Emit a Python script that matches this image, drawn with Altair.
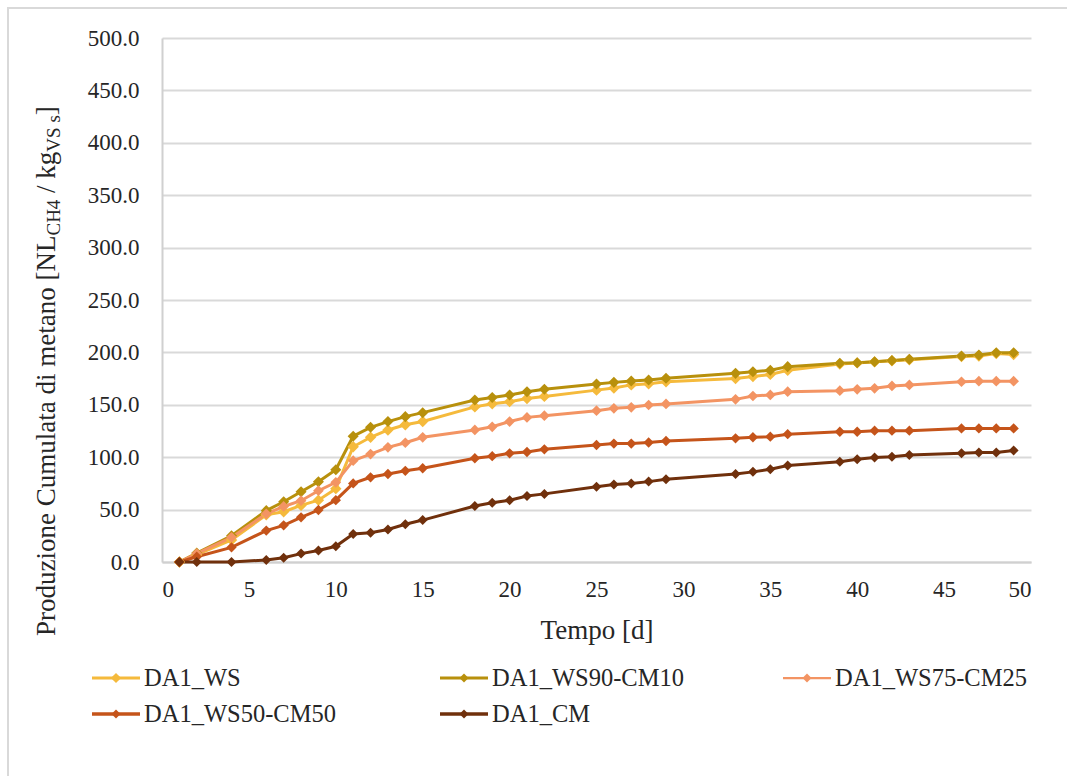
import altair as alt
import pandas as pd

# Sampling days [d]
days = [1, 2, 4, 6, 7, 8, 9, 10, 11, 12, 13, 14, 15, 18, 19, 20, 21, 22, 25, 26,
        27, 28, 29, 33, 34, 35, 36, 39, 40, 41, 42, 43, 46, 47, 48, 49]

# Cumulative methane production [NL CH4 / kg VS s]
ws = [0, 7, 21, 45, 48, 54, 59, 70, 110, 119, 126, 131, 134, 148, 151, 153, 156, 158, 164, 166,
      169, 170, 172, 175, 177, 179, 183, 189, 190, 191, 192, 193, 196, 196.5, 199, 198]
ws90_cm10 = [0, 8.5, 25, 49, 57.5, 67, 76.5, 88, 120, 128.5, 134, 138.7, 142.5, 154.6, 157, 159.4, 162.5, 164.8, 169.8, 171.4,
             172.7, 173.7, 175.3, 180, 181.6, 183, 186.4, 189.6, 190.2, 191, 192.2, 193.4, 196.6, 197.5, 199.7, 199.7]
ws75_cm25 = [0, 8, 23.5, 46, 53, 58.5, 68, 76, 96.7, 103, 109.4, 113.8, 119, 126, 129, 134, 138, 139.6, 144.4, 146.6,
             147.6, 149.8, 150.8, 155.2, 158.4, 159.4, 162.5, 163.5, 164.8, 165.7, 168, 169, 172, 172.5, 172.5, 172.5]
ws50_cm50 = [0, 5, 14, 30, 35, 42.6, 49.6, 59, 75, 80.8, 84, 87, 89.4, 99, 101, 103.7, 105, 107.5, 111.6, 113,
             113, 114, 115.5, 118, 119, 119.6, 122, 124.3, 124.3, 125.3, 125.3, 125.3, 127.5, 127.5, 127.5, 127.5]
cm = [0, 0, 0, 2, 4, 8, 11, 15, 26.7, 28, 31, 36, 40, 53.4, 56.6, 59, 63, 65, 71.9, 74,
      75, 76.7, 78.9, 84, 86, 88.5, 92, 95.7, 98, 99.6, 100.5, 102, 103.7, 104.6, 104.6, 106.5]

series_names = ["DA1_WS", "DA1_WS90-CM10", "DA1_WS75-CM25", "DA1_WS50-CM50", "DA1_CM"]
series_values = [ws, ws90_cm10, ws75_cm25, ws50_cm50, cm]
series_colors = ["#F5BA3C", "#B8900C", "#F39463", "#C5541A", "#70300C"]
line_widths = [3, 3, 2.25, 3.5, 3.5]
marker_sizes = [130, 100, 100, 100, 100]

x_ticks = list(range(0, 51, 5))
y_ticks = list(range(0, 501, 50))

rows = []
for name, vals in zip(series_names, series_values):
    for d, v in zip(days, vals):
        rows.append({"series": name, "giorno": d, "valore": v})
df = pd.DataFrame(rows)

FONT = "Times New Roman, Liberation Serif, Tinos, DejaVu Serif, serif"
TEXT = "#262626"
W, H = 869, 524
LEFT, TOP = 162, 38

color_scale = alt.Scale(domain=series_names, range=series_colors)
x_enc = alt.X("giorno:Q", scale=alt.Scale(domain=[0, 50]),
              axis=alt.Axis(values=x_ticks, format="d", title="Tempo [d]", grid=False,
                            labelFont=FONT, labelFontSize=23, labelColor=TEXT,
                            titleFont=FONT, titleFontSize=27, titleColor=TEXT, titleFontWeight="normal",
                            titlePadding=16, labelPadding=16))
y_enc = alt.Y("valore:Q", scale=alt.Scale(domain=[0, 500]),
              axis=alt.Axis(values=y_ticks, format=".1f", title=None, labelPadding=23,
                            labelFont=FONT, labelFontSize=23, labelColor=TEXT))

base = alt.Chart(df)
lines = base.mark_line().encode(
    x=x_enc, y=y_enc,
    color=alt.Color("series:N", scale=color_scale, legend=None),
    strokeWidth=alt.StrokeWidth("series:N", scale=alt.Scale(domain=series_names, range=line_widths), legend=None),
)
points = base.mark_point(shape="diamond", filled=True, opacity=1).encode(
    x="giorno:Q", y="valore:Q",
    color=alt.Color("series:N", scale=color_scale, legend=None),
    size=alt.Size("series:N", scale=alt.Scale(domain=series_names, range=marker_sizes), legend=None),
)

one = pd.DataFrame({"k": [0]})

# Outer frame of the figure
frame = alt.Chart(one).mark_rect(fillOpacity=0, stroke="#D9D9D9", strokeWidth=2).encode(
    x=alt.value(8 - LEFT), x2=alt.value(1090 - LEFT),
    y=alt.value(8 - TOP), y2=alt.value(800 - TOP),
)

# Y-axis title with subscripts, built from rotated pieces
TNR = {'P': 556, 'r': 333, 'o': 500, 'd': 500, 'u': 500, 'z': 444, 'i': 278, 'n': 500, 'e': 444,
       ' ': 250, 'C': 667, 'm': 778, 'l': 278, 'a': 444, 't': 278, '[': 333, 'N': 722, 'L': 611,
       'H': 722, '4': 500, '/': 278, 'k': 500, 'g': 500, 'V': 722, 'S': 556, 's': 389, ']': 333}


def text_width(s, size):
    return sum(TNR[c] for c in s) * size / 1000.0


title_pieces = [  # text, font size, baseline shift, space before
    ("Produzione Cumulata di metano [NL", 27, 0, 0),
    ("CH4", 19, 5, 0),
    ("/ kg", 27, 0, 27),
    ("VS s", 19, 5, 0),
    ("]", 27, 0, 0),
]
baseline_x = 55 - LEFT
pos = 636 - TOP
title_layers = []
for txt, size, shift, space_size in title_pieces:
    pos -= text_width(" ", space_size) if space_size else 0
    title_layers.append(
        alt.Chart(one).mark_text(angle=270, align="left", baseline="alphabetic",
                                 font=FONT, fontSize=size, color=TEXT).encode(
            x=alt.value(baseline_x + shift), y=alt.value(pos), text=alt.value(txt))
    )
    pos -= text_width(txt, size)

# Legend below the plot: three columns, two rows
legend_cols = [92, 440, 783]
legend_rows = [678, 714]
legend_layers = []
for i, (name, col, lw, ms) in enumerate(zip(series_names, series_colors, line_widths, marker_sizes)):
    lx = legend_cols[i % 3] - LEFT
    ly = legend_rows[i // 3] - TOP
    legend_layers.append(alt.Chart(one).mark_rule(color=col, strokeWidth=lw).encode(
        x=alt.value(lx), x2=alt.value(lx + 48), y=alt.value(ly)))
    legend_layers.append(alt.Chart(one).mark_point(shape="diamond", filled=True, opacity=1,
                                                   color=col, size=ms * 0.8).encode(
        x=alt.value(lx + 24), y=alt.value(ly)))
    legend_layers.append(alt.Chart(one).mark_text(align="left", baseline="middle", font=FONT,
                                                  fontSize=24.5, color=TEXT).encode(
        x=alt.value(lx + 52), y=alt.value(ly + 1), text=alt.value(name)))

chart = alt.layer(frame, lines, points, *title_layers, *legend_layers).properties(
    width=W, height=H,
    autosize=alt.AutoSizeParams(type="none"),
    padding={"left": LEFT, "top": TOP, "right": 1067 - LEFT - W, "bottom": 776 - TOP - H},
    background="white",
).configure(font=FONT).configure_view(stroke=None).configure_axis(
    gridColor="#D9D9D9", gridWidth=2,
    domainColor="#D0D0D0", domainWidth=2, ticks=False,
)

chart.save("out.html", embed_options={"renderer": "svg", "actions": False})
